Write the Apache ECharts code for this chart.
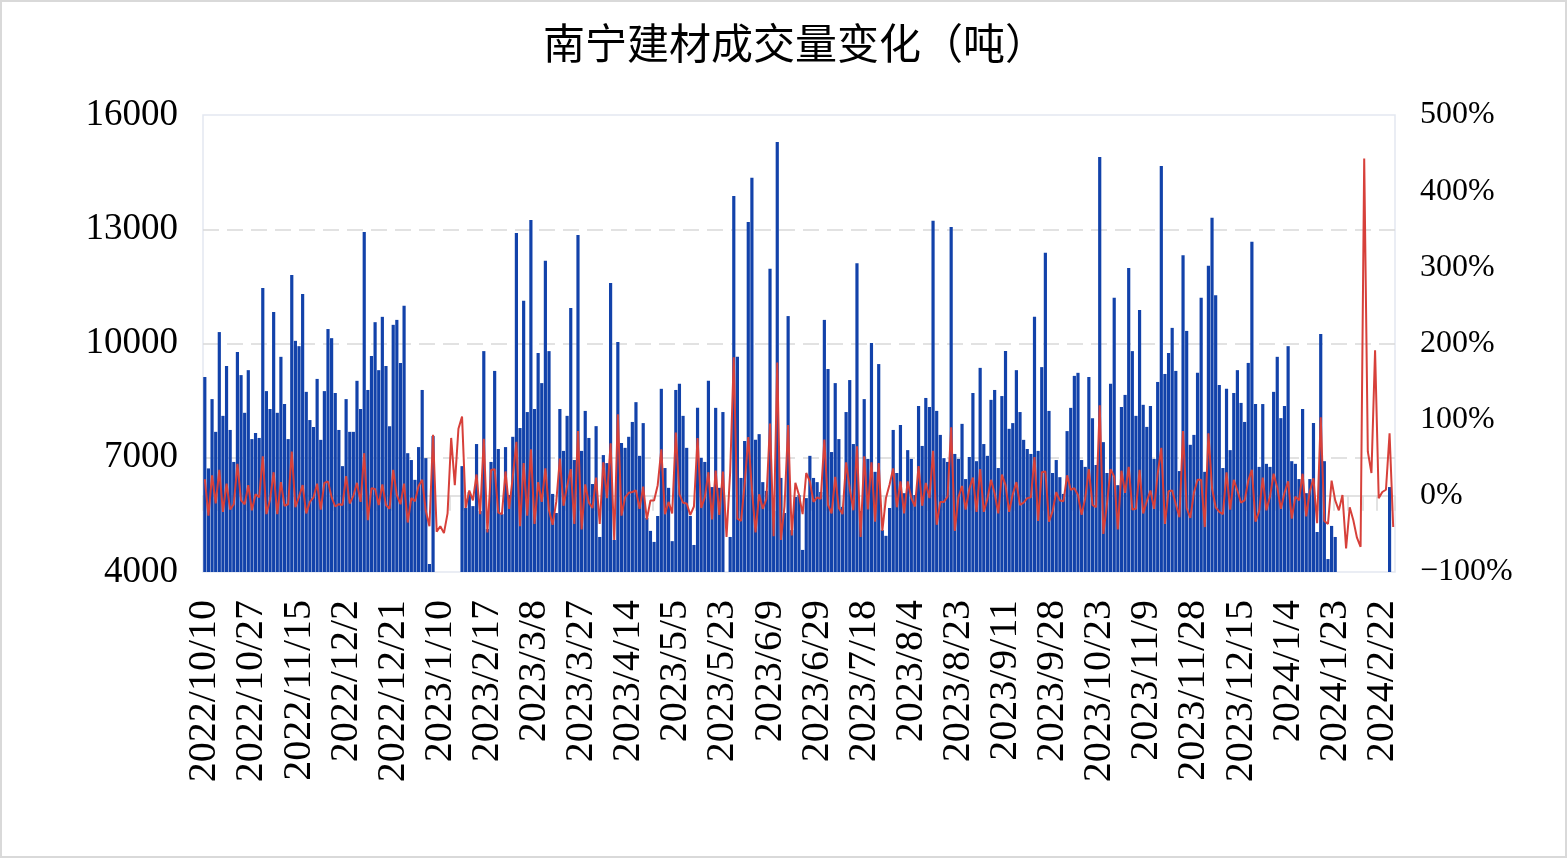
<!DOCTYPE html>
<html>
<head>
<meta charset="utf-8">
<script src="https://cdn.jsdelivr.net/npm/echarts@6/dist/echarts.min.js"></script>
<style>html,body{margin:0;padding:0;background:#fff;}#c{width:1567px;height:858px;}</style>
</head>
<body>
<div id="c"></div>
<script>
const titleText = '南宁建材成交量变化（吨）';

const dates = [
'2022/10/10','2022/10/11','2022/10/12','2022/10/13','2022/10/14','2022/10/17','2022/10/18','2022/10/19','2022/10/20','2022/10/21',
'2022/10/24','2022/10/25','2022/10/26','2022/10/27','2022/10/28','2022/10/31','2022/11/1','2022/11/2','2022/11/3','2022/11/4',
'2022/11/7','2022/11/8','2022/11/9','2022/11/10','2022/11/11','2022/11/14','2022/11/15','2022/11/16','2022/11/17','2022/11/18',
'2022/11/21','2022/11/22','2022/11/23','2022/11/24','2022/11/25','2022/11/28','2022/11/29','2022/11/30','2022/12/1','2022/12/2',
'2022/12/5','2022/12/6','2022/12/7','2022/12/8','2022/12/9','2022/12/12','2022/12/13','2022/12/14','2022/12/15','2022/12/16',
'2022/12/19','2022/12/20','2022/12/21','2022/12/22','2022/12/23','2022/12/26','2022/12/27','2022/12/28','2022/12/29','2022/12/30',
'2023/1/3','2023/1/4','2023/1/5','2023/1/6','2023/1/9','2023/1/10','2023/2/1','2023/2/2','2023/2/3','2023/2/6',
'2023/2/7','2023/2/8','2023/2/9','2023/2/10','2023/2/13','2023/2/14','2023/2/15','2023/2/16','2023/2/17','2023/2/20',
'2023/2/21','2023/2/22','2023/2/23','2023/2/24','2023/2/27','2023/2/28','2023/3/1','2023/3/2','2023/3/3','2023/3/6',
'2023/3/7','2023/3/8','2023/3/9','2023/3/10','2023/3/13','2023/3/14','2023/3/15','2023/3/16','2023/3/17','2023/3/20',
'2023/3/21','2023/3/22','2023/3/23','2023/3/24','2023/3/27','2023/3/28','2023/3/29','2023/3/30','2023/3/31','2023/4/3',
'2023/4/4','2023/4/6','2023/4/7','2023/4/10','2023/4/11','2023/4/12','2023/4/13','2023/4/14','2023/4/17','2023/4/18',
'2023/4/19','2023/4/20','2023/4/21','2023/4/23','2023/4/24','2023/4/25','2023/4/26','2023/4/27','2023/4/28','2023/5/4',
'2023/5/5','2023/5/6','2023/5/8','2023/5/9','2023/5/10','2023/5/11','2023/5/12','2023/5/15','2023/5/16','2023/5/17',
'2023/5/18','2023/5/19','2023/5/22','2023/5/23','2023/5/24','2023/5/25','2023/5/26','2023/5/29','2023/5/30','2023/5/31',
'2023/6/1','2023/6/2','2023/6/5','2023/6/6','2023/6/7','2023/6/8','2023/6/9','2023/6/12','2023/6/13','2023/6/14',
'2023/6/15','2023/6/16','2023/6/19','2023/6/20','2023/6/21','2023/6/25','2023/6/26','2023/6/27','2023/6/28','2023/6/29',
'2023/6/30','2023/7/3','2023/7/4','2023/7/5','2023/7/6','2023/7/7','2023/7/10','2023/7/11','2023/7/12','2023/7/13',
'2023/7/14','2023/7/17','2023/7/18','2023/7/19','2023/7/20','2023/7/21','2023/7/24','2023/7/25','2023/7/26','2023/7/27',
'2023/7/28','2023/7/31','2023/8/1','2023/8/2','2023/8/3','2023/8/4','2023/8/7','2023/8/8','2023/8/9','2023/8/10',
'2023/8/11','2023/8/14','2023/8/15','2023/8/16','2023/8/17','2023/8/18','2023/8/21','2023/8/22','2023/8/23','2023/8/24',
'2023/8/25','2023/8/28','2023/8/29','2023/8/30','2023/8/31','2023/9/1','2023/9/4','2023/9/5','2023/9/6','2023/9/7',
'2023/9/8','2023/9/11','2023/9/12','2023/9/13','2023/9/14','2023/9/15','2023/9/18','2023/9/19','2023/9/20','2023/9/21',
'2023/9/22','2023/9/25','2023/9/26','2023/9/27','2023/9/28','2023/10/7','2023/10/8','2023/10/9','2023/10/10','2023/10/11',
'2023/10/12','2023/10/13','2023/10/16','2023/10/17','2023/10/18','2023/10/19','2023/10/20','2023/10/23','2023/10/24','2023/10/25',
'2023/10/26','2023/10/27','2023/10/30','2023/10/31','2023/11/1','2023/11/2','2023/11/3','2023/11/6','2023/11/7','2023/11/8',
'2023/11/9','2023/11/10','2023/11/13','2023/11/14','2023/11/15','2023/11/16','2023/11/17','2023/11/20','2023/11/21','2023/11/22',
'2023/11/23','2023/11/24','2023/11/27','2023/11/28','2023/11/29','2023/11/30','2023/12/1','2023/12/4','2023/12/5','2023/12/6',
'2023/12/7','2023/12/8','2023/12/11','2023/12/12','2023/12/13','2023/12/14','2023/12/15','2023/12/18','2023/12/19','2023/12/20',
'2023/12/21','2023/12/22','2023/12/25','2023/12/26','2023/12/27','2023/12/28','2023/12/29','2024/1/2','2024/1/3','2024/1/4',
'2024/1/5','2024/1/8','2024/1/9','2024/1/10','2024/1/11','2024/1/12','2024/1/15','2024/1/16','2024/1/17','2024/1/18',
'2024/1/19','2024/1/22','2024/1/23','2024/1/24','2024/1/25','2024/1/26','2024/1/29','2024/1/30','2024/2/1','2024/2/5',
'2024/2/7','2024/2/18','2024/2/19','2024/2/20','2024/2/21','2024/2/22','2024/2/23','2024/2/26','2024/2/27'
];

// 成交量（吨）
const volume = [
9120,6720,8540,7680,10300,8100,9410,7730,6890,9780,
9170,8180,9300,7490,7650,7520,11460,8750,8280,10830,
8180,9650,8410,7490,11800,10070,9930,11300,8730,7990,
7810,9070,7470,8750,10380,10140,8700,7730,6780,8540,
7680,7680,9020,8280,12930,8780,9670,10560,9300,10700,
9410,7830,10490,10620,9490,10990,7120,6940,6420,7280,
8780,6990,4210,7570,3900,2340,1190,920,1620,1850,
3320,6780,5680,6100,5730,7360,5600,9800,5130,6890,
9280,7230,5520,7280,6020,7550,12900,7780,11120,8200,
13240,8280,9750,8960,12170,9800,6050,5550,8280,7180,
8100,10930,6940,12850,7180,8230,7520,6310,7830,4920,
7070,6860,11590,4840,10040,7390,7260,7550,7940,8460,
7050,7910,5420,5080,4790,5470,8810,6730,6210,4810,
8780,8940,8100,7260,5470,4710,8310,7000,6890,9020,
6230,8310,6210,8200,3770,4920,13870,9650,6470,7440,
13190,14350,7470,7620,6360,6130,11960,5600,15290,6470,
5550,10720,5100,5970,6020,4580,5940,7050,6470,6360,
6100,10620,9330,7150,8960,7490,5710,8200,9040,7360,
12110,5600,8540,6970,10010,6630,9460,5100,4950,5680,
7730,6600,7860,6070,7200,6970,6020,8360,7310,8570,
8330,13220,8230,7600,6990,6890,13060,7100,6970,7890,
6440,7020,8700,6910,9360,7360,7050,8520,8780,6730,
8620,9800,7760,7910,9300,8200,7470,7230,7100,10700,
7180,9380,12380,8230,6600,6940,6490,6050,7700,8310,
9150,9230,6940,6760,9120,8040,6810,14900,7410,6600,
8940,11200,6280,8330,8650,11980,9800,8100,10880,8390,
7810,8360,6970,8990,14660,9200,9750,10410,9280,6650,
12320,10330,7340,7600,9230,11200,6630,12040,13300,11270,
8910,6730,8810,7200,8700,9300,8440,7940,9490,12670,
8410,6760,8410,6840,6760,8730,9650,8040,8360,9930,
6910,6840,6440,8280,6070,6440,7910,5050,10250,6910,
4340,5210,4920,3950,3990,1240,1050,710,320,105,
570,900,1170,3400,3300,3460,3740,6230,3680
];

// 环比变化（%）
const changePct = [
22,-26,27,-10,34,-21,16,-18,-11,42,
-6,-11,14,-19,2,-2,52,-24,-5,31,
-24,18,-13,-11,58,-15,-1,14,-23,-8,
-2,16,-18,17,19,-2,-14,-11,-12,26,
-10,0,17,-8,56,-32,10,9,-12,15,
-12,-17,34,1,-11,16,-35,-3,-7,13,
21,-20,-40,80,-47,-40,-49,-23,76,14,
88,104,-16,7,-6,28,-24,75,-48,34,
35,-22,-24,32,-17,25,71,-40,43,-26,
61,-37,18,-8,36,-19,-38,-8,49,-13,
13,35,-37,85,-44,15,-9,-16,24,-37,
44,-3,69,-58,107,-26,-2,4,5,7,
-17,12,-31,-6,-6,14,61,-24,-8,-23,
83,2,-9,-10,-25,-14,76,-16,-2,31,
-31,33,-25,32,-54,31,182,-30,-33,15,
77,9,-48,2,-17,-4,95,-53,175,-58,
-14,93,-52,17,1,-24,30,19,-8,-2,
-4,74,-12,-23,25,-16,-24,44,10,-19,
65,-54,52,-18,44,-34,43,-46,-3,15,
36,-15,19,-23,19,-3,-14,39,-13,17,
-3,59,-38,-8,-8,-1,90,-46,-2,13,
-18,9,24,-21,35,-21,-4,21,3,-23,
28,14,-21,2,18,-12,-9,-3,-2,51,
-33,31,32,-34,-20,5,-6,-7,27,8,
10,1,-25,-3,35,-12,-15,119,-50,-11,
35,25,-44,33,4,38,-18,-17,34,-23,
-7,7,-17,29,63,-37,6,7,-11,-28,
85,-16,-29,4,21,21,-41,82,10,-15,
-21,-24,31,-18,21,7,-9,-6,20,34,
-34,-20,24,-19,-1,29,11,-17,4,19,
-30,-1,-6,29,-27,6,23,-36,103,-33,
-37,20,-6,-19,1,-69,-15,-32,-55,-67,
443,58,30,191,-3,5,8,82,-41
];

const leftTicks = {min: 4000, max: 16000, interval: 3000};
const rightTicks = {min: -100, max: 500, interval: 100};

const chart = echarts.init(document.getElementById('c'), null, {renderer: 'canvas'});
const serif = '"Liberation Serif", "DejaVu Serif", serif';
chart.setOption({
  backgroundColor: '#ffffff',
  animation: false,
  graphic: [
    {type: 'rect', shape: {x: 1, y: 1, width: 1565, height: 856},
     style: {fill: 'none', stroke: '#d9d9d9', lineWidth: 2}, silent: true, z: 100},
    {type: 'text', x: 795, y: 43,
     style: {text: titleText, font: 'normal 42px "Noto Sans CJK SC"', fill: '#000',
             textAlign: 'center', textVerticalAlign: 'middle'}}
  ],
  grid: {left: 203, right: 172, top: 115, bottom: 286, show: true,
         borderColor: '#e3e8f1', borderWidth: 1.5, backgroundColor: 'transparent'},
  xAxis: {
    type: 'category', data: dates, boundaryGap: true,
    axisLine: {lineStyle: {color: '#d9d9d9', width: 1.5}},
    axisTick: {show: true, interval: 3, length: 15, lineStyle: {color: '#d9d9d9', width: 1.5}},
    axisLabel: {interval: 12, rotate: 90, margin: 28, color: '#000',
                fontFamily: serif, fontSize: 40}
  },
  yAxis: [
    {type: 'value', min: leftTicks.min, max: leftTicks.max, interval: leftTicks.interval,
     axisLine: {show: false}, axisTick: {show: false},
     axisLabel: {color: '#000', fontFamily: serif, fontSize: 37, margin: 25,
                 formatter: v => String(v)},
     splitLine: {show: true, lineStyle: {color: ['rgba(0,0,0,0)', '#d9d9d9', '#d9d9d9', '#d9d9d9', 'rgba(0,0,0,0)'],
                 width: 1.5, type: [16, 8]}}},
    {type: 'value', min: rightTicks.min, max: rightTicks.max, interval: rightTicks.interval,
     axisLine: {show: false}, axisTick: {show: false},
     axisLabel: {color: '#000', fontFamily: serif, fontSize: 32, margin: 25,
                 formatter: v => (v < 0 ? '−' + Math.abs(v) : v) + '%'},
     splitLine: {show: false}}
  ],
  series: [
    {type: 'bar', name: '成交量', data: volume, yAxisIndex: 0, clip: true,
     barCategoryGap: '12%', itemStyle: {color: '#1242aa'}},
    {type: 'line', name: '环比', data: changePct, yAxisIndex: 1, symbol: 'none',
     lineStyle: {color: '#d7403a', width: 2}, z: 5}
  ]
});
</script>
</body>
</html>
